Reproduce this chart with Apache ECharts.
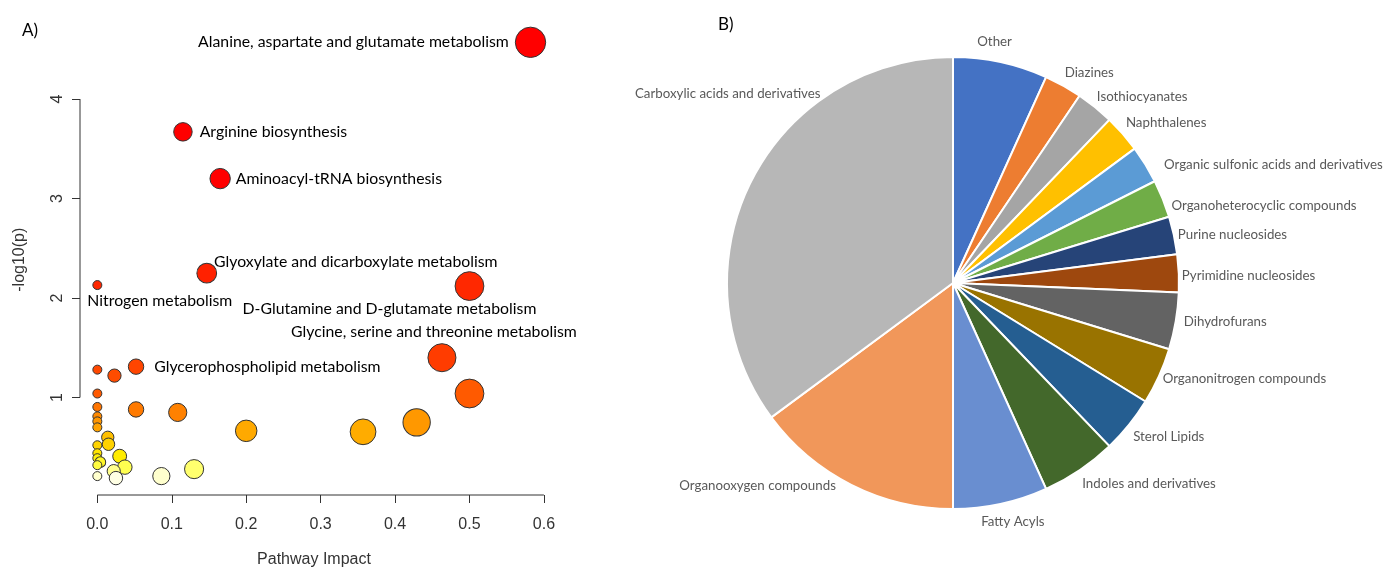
<!DOCTYPE html>
<html>
<head>
<meta charset="utf-8">
<script src="https://cdn.jsdelivr.net/npm/echarts@6/dist/echarts.min.js"></script>
</head>
<body style="margin:0">
<div id="main" style="width:1385px;height:568px;"></div>
<script>
// panel A: pathway analysis
var impact = [0.582, 0.115, 0.165, 0.147, 0.500, 0.000, 0.463, 0.500, 0.052, 0.023,
    0.000, 0.000, 0.000, 0.052, 0.108, 0.000, 0.000, 0.000, 0.200, 0.357,
    0.429, 0.014, 0.015, 0.000, 0.000, 0.000, 0.004, 0.000, 0.030, 0.037,
    0.022, 0.025, 0.000, 0.086, 0.130];
var logp = [4.57, 3.67, 3.20, 2.25, 2.12, 2.13, 1.40, 1.04, 1.31, 1.22,
    1.28, 1.04, 0.905, 0.88, 0.85, 0.81, 0.76, 0.70, 0.665, 0.655,
    0.75, 0.60, 0.53, 0.52, 0.44, 0.39, 0.35, 0.32, 0.41, 0.30,
    0.26, 0.19, 0.21, 0.21, 0.28];
var pathway = ['Alanine, aspartate and glutamate metabolism', 'Arginine biosynthesis',
    'Aminoacyl-tRNA biosynthesis', 'Glyoxylate and dicarboxylate metabolism',
    'D-Glutamine and D-glutamate metabolism', 'Nitrogen metabolism',
    'Glycine, serine and threonine metabolism', '', 'Glycerophospholipid metabolism'];
var xTicks = [0, 0.1, 0.2, 0.3, 0.4, 0.5, 0.6];
var yTicks = [1, 2, 3, 4];

// panel B: compound classes
var classes = ['Other', 'Diazines', 'Isothiocyanates', 'Naphthalenes',
    'Organic sulfonic acids and derivatives', 'Organoheterocyclic compounds',
    'Purine nucleosides', 'Pyrimidine nucleosides', 'Dihydrofurans',
    'Organonitrogen compounds', 'Sterol Lipids', 'Indoles and derivatives',
    'Fatty Acyls', 'Organooxygen compounds', 'Carboxylic acids and derivatives'];
var counts = [5, 2, 2, 2, 2, 2, 2, 2, 3, 3, 3, 4, 5, 11, 26];

var pieColors = ['#4472C4', '#ED7D31', '#A5A5A5', '#FFC000', '#5B9BD5', '#70AD47',
    '#264478', '#9E480E', '#636363', '#997300', '#255E91', '#43682B',
    '#698ED0', '#F1975A', '#B7B7B7'];

// heat colour stops, keyed on -log10(p)
var heatStops = [
    [0.19, [255, 255, 228]], [0.24, [255, 255, 170]], [0.30, [255, 255, 80]],
    [0.40, [255, 238, 0]], [0.52, [255, 212, 0]], [0.60, [255, 192, 0]],
    [0.66, [255, 170, 0]], [0.76, [255, 150, 0]], [0.88, [255, 122, 0]],
    [1.04, [255, 90, 0]], [1.30, [255, 70, 0]], [1.40, [255, 60, 0]],
    [2.12, [255, 40, 0]], [2.5, [255, 20, 0]], [3.2, [255, 0, 0]], [5, [255, 0, 0]]
];
function heat(v) {
    for (var i = 1; i < heatStops.length; i++) {
        if (v <= heatStops[i][0]) {
            var a = heatStops[i - 1], b = heatStops[i];
            var t = Math.max(0, (v - a[0]) / (b[0] - a[0]));
            var c = a[1].map(function (k, j) { return Math.round(k + (b[1][j] - k) * t); });
            return 'rgb(' + c.join(',') + ')';
        }
    }
    return 'rgb(255,0,0)';
}

var labelPlace = {
    'Alanine, aspartate and glutamate metabolism': { position: 'left', distance: 6 },
    'Arginine biosynthesis': { position: 'right', distance: 7 },
    'Aminoacyl-tRNA biosynthesis': { position: 'right', distance: 5 },
    'Glyoxylate and dicarboxylate metabolism': { position: 'right', distance: 5, offset: [-8, -11] },
    'D-Glutamine and D-glutamate metabolism': { position: 'bottom', distance: 5, offset: [-80, -5] },
    'Nitrogen metabolism': { position: 'right', distance: 5, offset: [-20, 16] },
    'Glycine, serine and threonine metabolism': { position: 'top', distance: 5, offset: [-8, 2] },
    'Glycerophospholipid metabolism': { position: 'right', distance: 10 }
};

// nudges so the pie labels sit where Excel's "best fit" put them
var pieLabelNudge = {
    'Other': [-24, -17],
    'Diazines': [0, -10],
    'Isothiocyanates': [0, -8],
    'Naphthalenes': [1, -9],
    'Organic sulfonic acids and derivatives': [16, 2],
    'Organoheterocyclic compounds': [6, 8],
    'Purine nucleosides': [1, 0],
    'Pyrimidine nucleosides': [0, 2],
    'Dihydrofurans': [5, 0],
    'Organonitrogen compounds': [1, 1],
    'Sterol Lipids': [2, 10],
    'Indoles and derivatives': [1, 11],
    'Fatty Acyls': [-20, 15],
    'Organooxygen compounds': [-14, -2],
    'Carboxylic acids and derivatives': [72, -86]
};

var scatterData = impact.map(function (x, i) {
    var name = pathway[i] || '';
    var item = { value: [x, logp[i]], name: name };
    if (labelPlace[name]) {
        item.label = Object.assign({ show: true, formatter: name }, labelPlace[name]);
    }
    return item;
});

var xMin = -0.0233, xMax = 0.6055, yMin = 0.02, yMax = 4.75;

// R draws its axis lines only between the first and last tick
var axisStyle = { color: '#333', width: 1 };
var xAxisLine = [[xTicks[0], yMin], [xTicks[xTicks.length - 1], yMin]];
var yAxisLine = [[xMin, yTicks[0]], [xMin, yTicks[yTicks.length - 1]]];

var chart = echarts.init(document.getElementById('main'));

chart.setOption({
    animation: false,
    title: [
        { text: 'A)', left: 17, top: 17, textStyle: { fontSize: 17, fontWeight: 'normal', color: '#000', fontFamily: 'Lato' } },
        { text: 'B)', left: 713, top: 11, textStyle: { fontSize: 17, fontWeight: 'normal', color: '#000', fontFamily: 'Lato' } }
    ],
    grid: { left: 80, right: 837, top: 24.4, bottom: 73, outerBoundsMode: 'none' },
    xAxis: {
        type: 'value', min: xMin, max: xMax,
        name: 'Pathway Impact', nameLocation: 'middle', nameGap: 57,
        nameTextStyle: { fontSize: 16, color: '#333', fontFamily: 'Liberation Sans' },
        splitLine: { show: false },
        axisLine: { show: false, onZero: false },
        axisTick: { show: true, customValues: xTicks, length: 8, lineStyle: { color: '#333' } },
        axisLabel: {
            customValues: xTicks, margin: 22, fontSize: 16, color: '#333', fontFamily: 'Liberation Sans',
            formatter: function (v) { return v.toFixed(1); }
        }
    },
    yAxis: {
        type: 'value', min: yMin, max: yMax,
        name: '-log10(p)', nameLocation: 'middle', nameGap: 52, nameRotate: 90,
        nameTextStyle: { fontSize: 16, color: '#333', fontFamily: 'Liberation Sans' },
        splitLine: { show: false },
        axisLine: { show: false, onZero: false },
        axisTick: { show: true, customValues: yTicks, length: 8, lineStyle: { color: '#333' } },
        axisLabel: { customValues: yTicks, margin: 14, rotate: 90, fontSize: 16, color: '#333', fontFamily: 'Liberation Sans' }
    },
    series: [
        {
            type: 'line', data: xAxisLine, symbol: 'none', clip: false, silent: true,
            lineStyle: axisStyle, emphasis: { disabled: true }
        },
        {
            type: 'line', data: yAxisLine, symbol: 'none', clip: false, silent: true,
            lineStyle: axisStyle, emphasis: { disabled: true }
        },
        {
            type: 'scatter',
            data: scatterData,
            symbolSize: function (v) { return 9 + 28 * Math.sqrt(v[0]); },
            itemStyle: {
                color: function (p) { return heat(p.value[1]); },
                borderColor: '#333', borderWidth: 1, opacity: 1
            },
            label: { show: false, color: '#000', fontSize: 15.8, fontFamily: 'Lato' },
            emphasis: { disabled: true }
        },
        {
            type: 'pie',
            center: [953, 283],
            radius: 226,
            startAngle: 90,
            clockwise: true,
            avoidLabelOverlap: false,
            data: classes.map(function (c, i) { return { name: c, value: counts[i] }; }),
            color: pieColors,
            itemStyle: { borderColor: '#fff', borderWidth: 2 },
            label: {
                show: true, position: 'outside', overflow: 'none', distanceToLabelLine: 0,
                color: '#595959', fontSize: 13.3, fontFamily: 'Lato'
            },
            labelLine: { show: false, length: 3, length2: 0 },
            labelLayout: function (p) {
                var n = pieLabelNudge[classes[p.dataIndex]];
                return n ? { dx: n[0], dy: n[1] } : {};
            },
            emphasis: { disabled: true }
        }
    ]
});
</script>
</body>
</html>
